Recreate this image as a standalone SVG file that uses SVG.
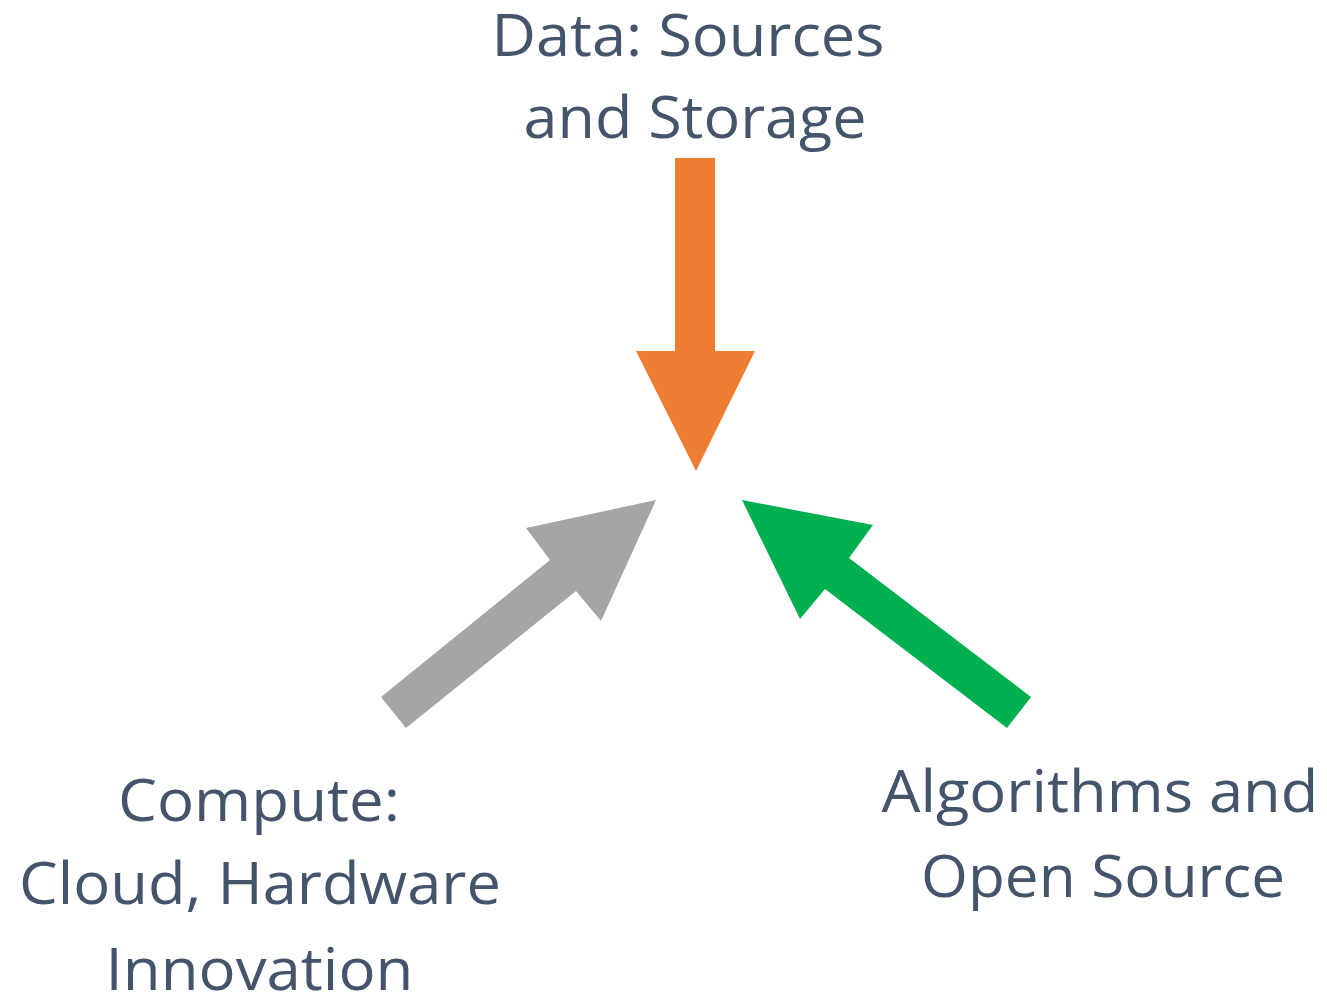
<svg xmlns="http://www.w3.org/2000/svg" width="1327" height="997" viewBox="0 0 1327 997">
  <style>
    .label { font-family: "Open Sans", "Lato", "Liberation Sans", sans-serif; font-size: 58px; fill: #44546A; text-anchor: middle; font-variant-ligatures: none; }
  </style>
  <rect width="1327" height="997" fill="#FFFFFF"/>

  <!-- block arrows converging on the centre -->
  <g id="connectors">
    <polygon id="arrow-data" fill="#ED7D31" points="675,158 715,158 715,351 755,351 696,471 636,351 675,351"/>
    <polygon id="arrow-compute" fill="#A5A5A5" points="381,697 550,560 526,528 656,500 601,621 576,591 406,728"/>
    <polygon id="arrow-algorithms" fill="#00B050" points="742,500 873,525 849,558 1031,697 1007,728 825,589 800,619"/>
  </g>

  <g id="node-data">
    <text class="label" x="688" y="56" textLength="393" lengthAdjust="spacingAndGlyphs">Data: Sources</text>
    <text class="label" x="695" y="138" textLength="343" lengthAdjust="spacingAndGlyphs">and Storage</text>
  </g>

  <g id="node-compute">
    <text class="label" x="259" y="821" textLength="282" lengthAdjust="spacingAndGlyphs">Compute:</text>
    <text class="label" x="260" y="904" textLength="482" lengthAdjust="spacingAndGlyphs">Cloud, Hardware</text>
    <text class="label" x="259.5" y="990" textLength="308" lengthAdjust="spacingAndGlyphs">Innovation</text>
  </g>

  <g id="node-algorithms">
    <text class="label" x="1100" y="812" textLength="437" lengthAdjust="spacingAndGlyphs">Algorithms and</text>
    <text class="label" x="1103" y="897" textLength="364" lengthAdjust="spacingAndGlyphs">Open Source</text>
  </g>
</svg>
